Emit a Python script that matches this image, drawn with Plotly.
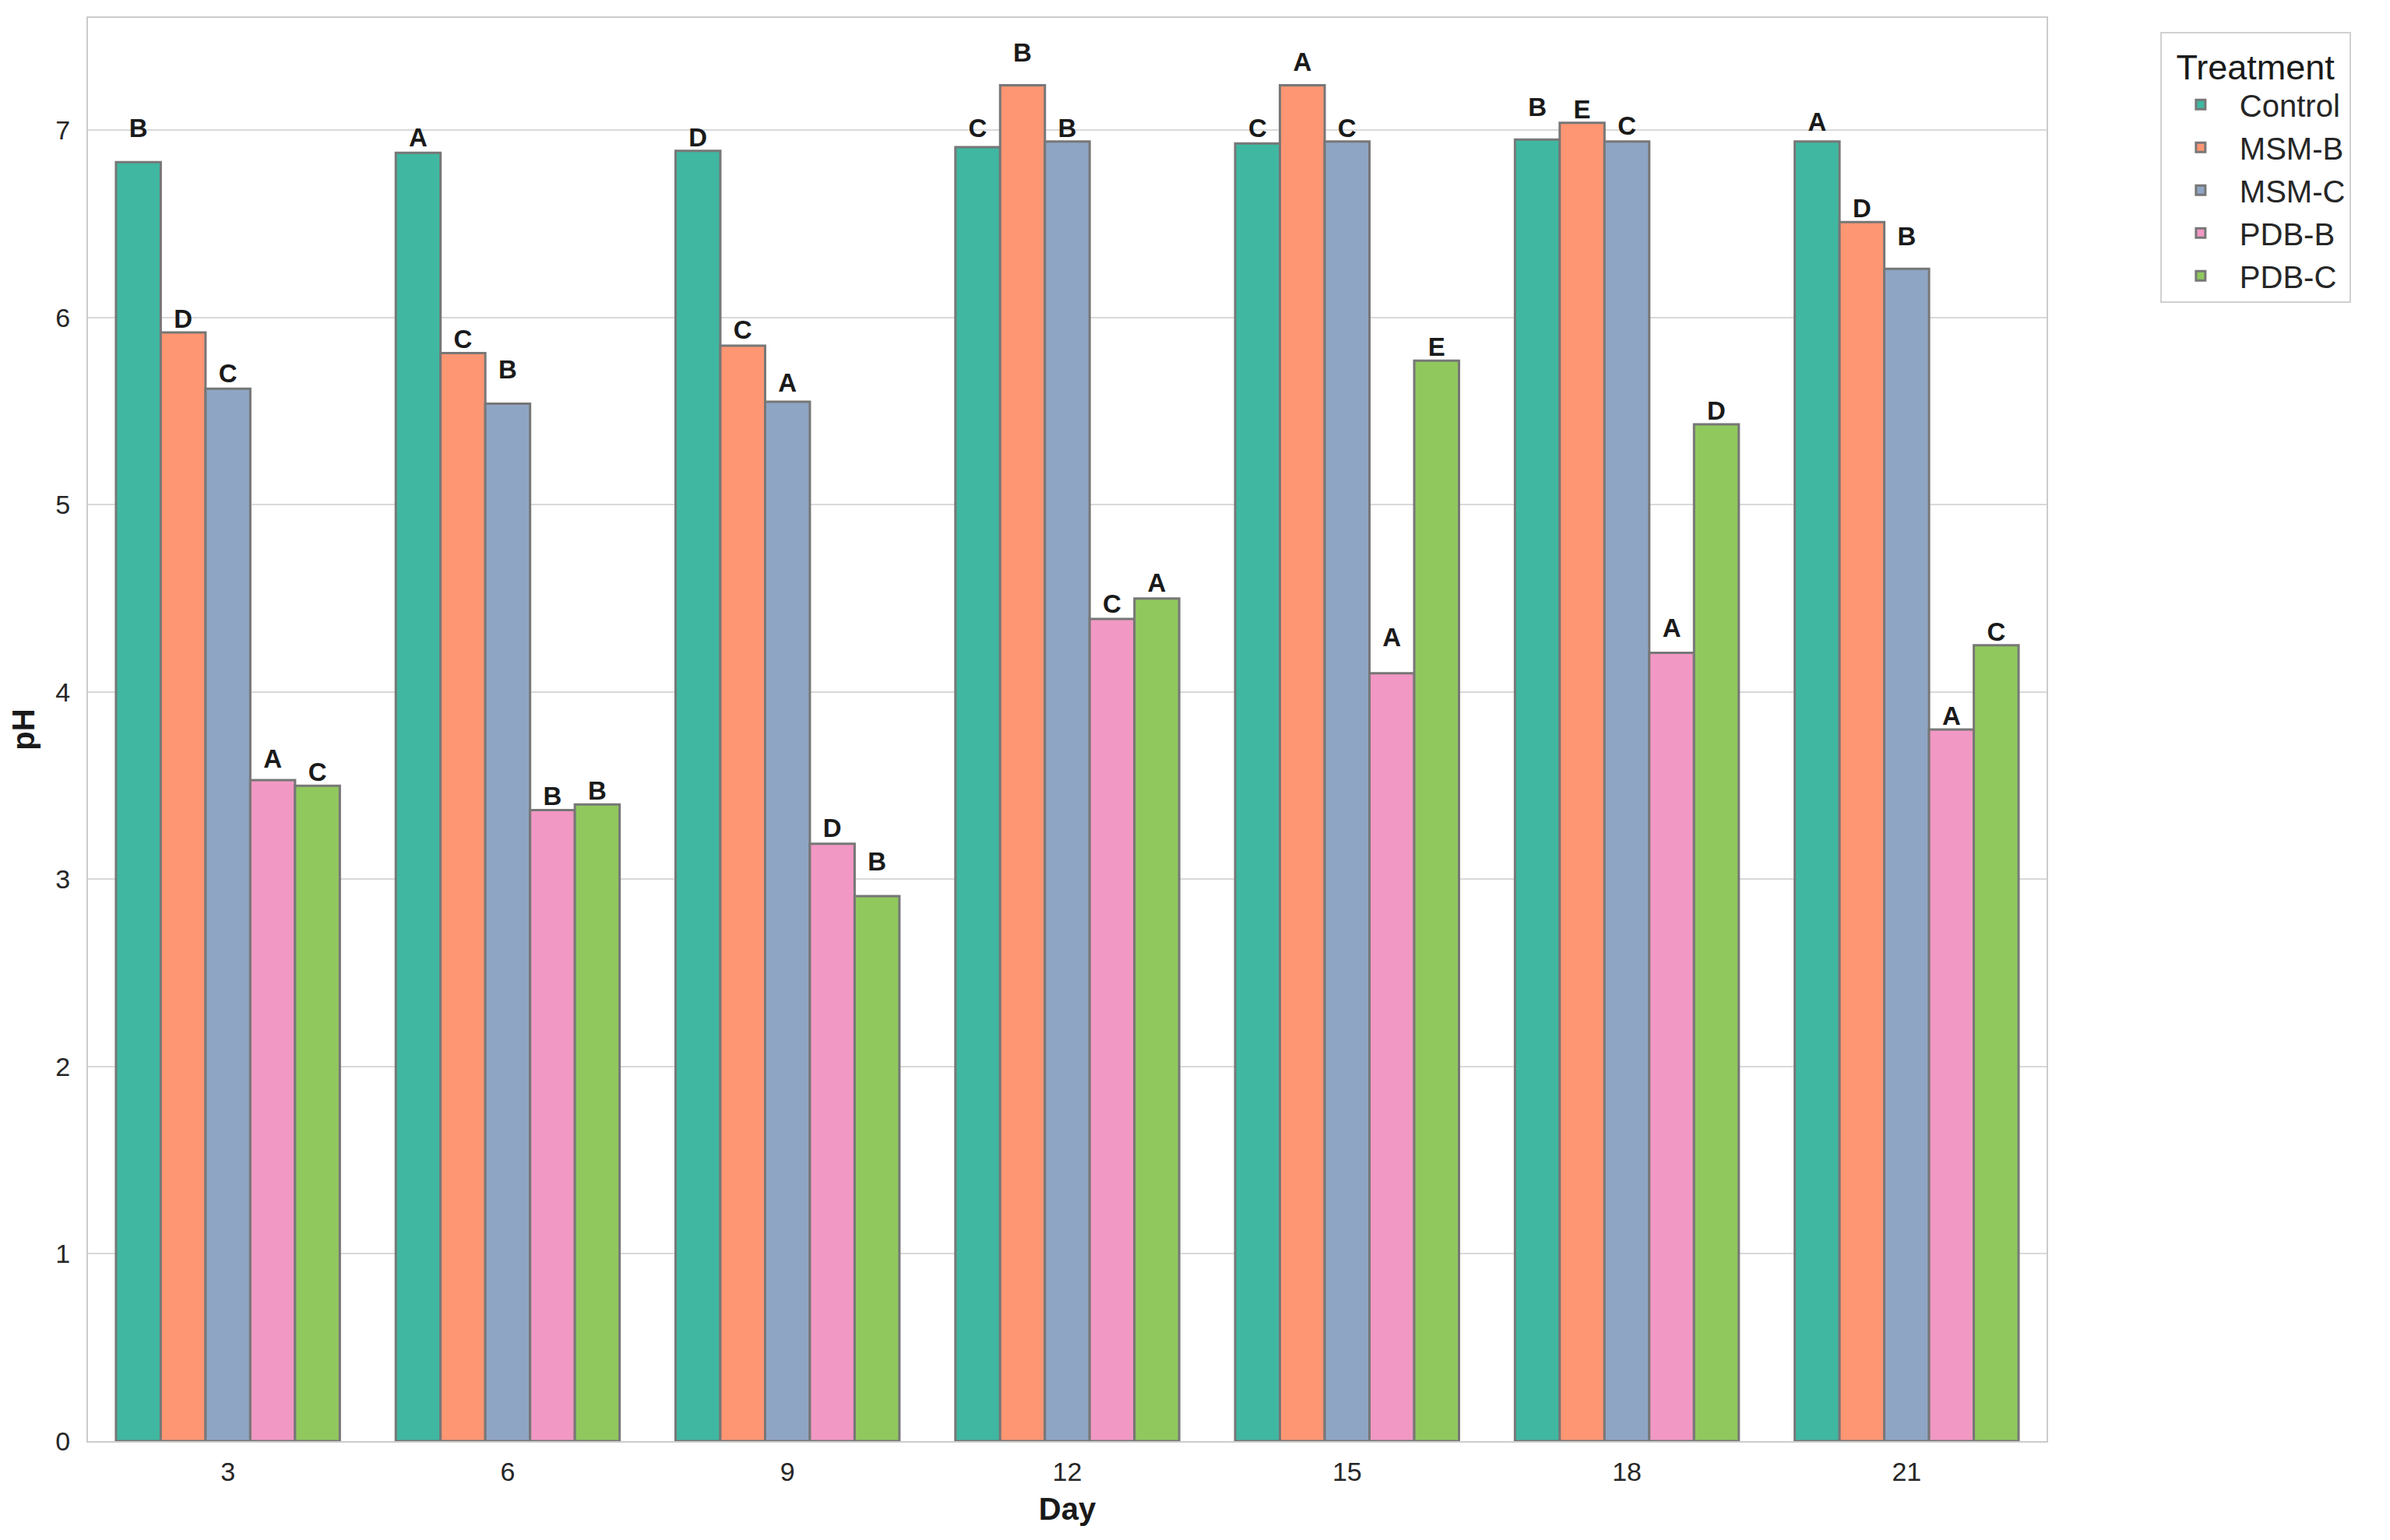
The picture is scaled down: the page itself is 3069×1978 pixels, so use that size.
import plotly.graph_objects as go

days = ["3", "6", "9", "12", "15", "18", "21"]
treatments = ["Control", "MSM-B", "MSM-C", "PDB-B", "PDB-C"]

ph_control = [6.83, 6.88, 6.89, 6.91, 6.93, 6.95, 6.94]
ph_msm_b   = [5.92, 5.81, 5.85, 7.24, 7.24, 7.04, 6.51]
ph_msm_c   = [5.62, 5.54, 5.55, 6.94, 6.94, 6.94, 6.26]
ph_pdb_b   = [3.53, 3.37, 3.19, 4.39, 4.10, 4.21, 3.80]
ph_pdb_c   = [3.50, 3.40, 2.91, 4.50, 5.77, 5.43, 4.25]

sd_control = [0.11, 0.01, 0.00, 0.03, 0.01, 0.10, 0.03]
sd_msm_b   = [0.00, 0.00, 0.01, 0.10, 0.05, 0.00, 0.00]
sd_msm_c   = [0.01, 0.11, 0.03, 0.00, 0.00, 0.01, 0.10]
sd_pdb_b   = [0.04, 0.00, 0.01, 0.01, 0.12, 0.06, 0.00]
sd_pdb_c   = [0.00, 0.00, 0.11, 0.01, 0.00, 0.00, 0.00]

let_control = ["B", "A", "D", "C", "C", "B", "A"]
let_msm_b   = ["D", "C", "C", "B", "A", "E", "D"]
let_msm_c   = ["C", "B", "A", "B", "C", "C", "B"]
let_pdb_b   = ["A", "B", "D", "C", "A", "A", "A"]
let_pdb_c   = ["C", "B", "B", "A", "E", "D", "C"]

values = [ph_control, ph_msm_b, ph_msm_c, ph_pdb_b, ph_pdb_c]
sds = [sd_control, sd_msm_b, sd_msm_c, sd_pdb_b, sd_pdb_c]
letters = [let_control, let_msm_b, let_msm_c, let_pdb_b, let_pdb_c]
colors = ["#40B7A1", "#FF9673", "#8FA5C4", "#F298C4", "#90C85E"]

FONT = "Liberation Sans, Arial, sans-serif"
PAD = 0.06

fig = go.Figure()
for i, t in enumerate(treatments):
    fig.add_trace(go.Bar(
        x=days, y=values[i], name=t, offsetgroup=str(i),
        marker=dict(color=colors[i], line=dict(color="#777777", width=3)),
        hoverinfo="x+y",
    ))
for i, t in enumerate(treatments):
    fig.add_trace(go.Scatter(
        x=days, y=[v + s + PAD for v, s in zip(values[i], sds[i])],
        mode="text", text=letters[i], offsetgroup=str(i),
        textposition="middle center",
        textfont=dict(family=FONT, size=33, color="#1a1a1a", weight="bold"),
        showlegend=False, hoverinfo="skip",
    ))

fig.update_layout(
    width=3069, height=1978,
    margin=dict(l=105, r=449, t=15, b=135),
    paper_bgcolor="white", plot_bgcolor="white",
    barmode="group", bargap=0.2, bargroupgap=0,
    scattermode="group", scattergap=0.2,
    font=dict(family=FONT, size=34, color="#262626"),
    legend=dict(
        title=dict(text="Treatment", font=dict(size=45, color="#1a1a1a"), side="top center"),
        font=dict(size=40, color="#262626"),
        x=1.058, xanchor="left", y=0.99, yanchor="top",
        bordercolor="#d0d0d0", borderwidth=2, bgcolor="white",
        itemwidth=90,
    ),
    xaxis=dict(
        title=dict(text="<b>Day</b>", font=dict(size=40, color="#1a1a1a"), standoff=16),
        type="category", showgrid=False, showline=True, linecolor="#cccccc",
        linewidth=2, mirror=True, ticks="", ticklabelstandoff=8,
        tickfont=dict(size=34, color="#262626"),
    ),
    yaxis=dict(
        title=dict(text="<b>pH</b>", font=dict(size=40, color="#1a1a1a"), standoff=18),
        range=[0, 7.6], dtick=1, showgrid=True, gridcolor="#d9d9d9", gridwidth=2,
        showline=True, linecolor="#cccccc", linewidth=2, mirror=True, ticks="",
        ticklabelstandoff=14,
        zeroline=False, tickfont=dict(size=34, color="#262626"),
    ),
)

fig.write_html("out.html")
